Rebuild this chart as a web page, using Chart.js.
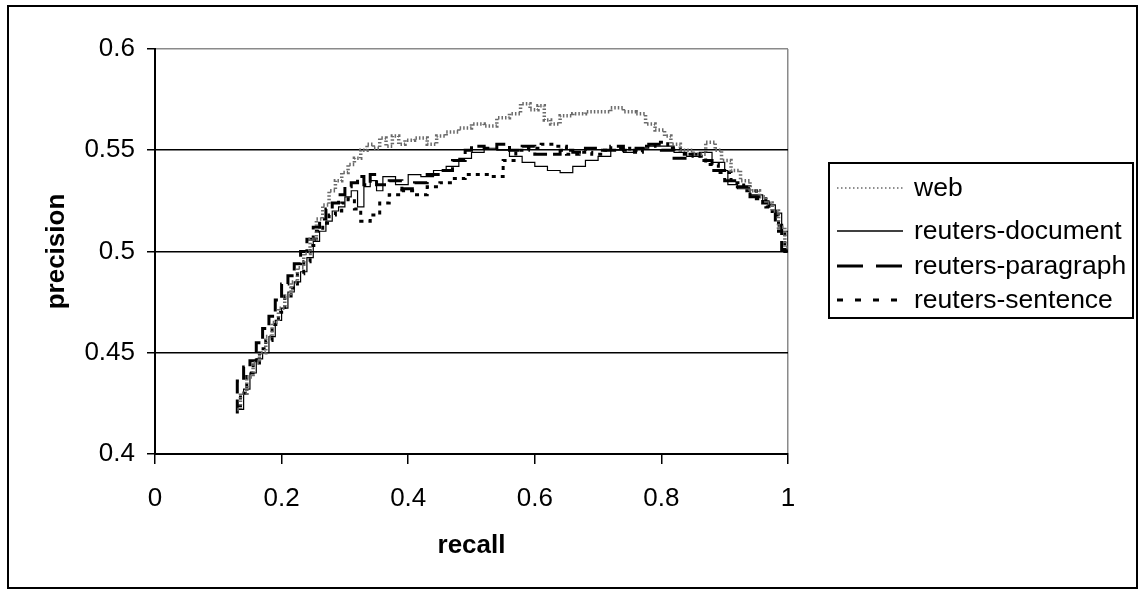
<!DOCTYPE html>
<html>
<head>
<meta charset="utf-8">
<script src="https://cdn.jsdelivr.net/npm/chart.js@4.4.1/dist/chart.umd.min.js"></script>
<style>
  body { margin: 0; background: #fff; }
</style>
</head>
<body>
<canvas id="grafica" width="1141" height="591"></canvas>
<script>
// valores: recall (x) y precision (y) por serie
const seriesNames = ['web', 'reuters-document', 'reuters-paragraph', 'reuters-sentence'];
const xTicks = [0, 0.2, 0.4, 0.6, 0.8, 1];
const yTicks = [0.4, 0.45, 0.5, 0.55, 0.6];

const webRecall = [0.13,0.14,0.15,0.16,0.17,0.18,0.19,0.2,0.21,0.22,0.23,0.24,0.25,0.26,0.27,0.28,0.29,0.3,0.31,0.32,0.33,0.34,0.35,0.36,0.37,0.38,0.39,0.4,0.42,0.44,0.45,0.47,0.49,0.51,0.53,0.55,0.57,0.585,0.6,0.61,0.62,0.63,0.65,0.67,0.69,0.71,0.73,0.75,0.77,0.78,0.8,0.81,0.82,0.84,0.86,0.88,0.89,0.9,0.92,0.93,0.95,0.96,0.97,0.98,0.99,1];
const webPrecision = [0.422,0.43,0.438,0.445,0.45,0.458,0.465,0.472,0.478,0.485,0.492,0.499,0.506,0.516,0.523,0.53,0.535,0.539,0.543,0.546,0.55,0.553,0.551,0.556,0.552,0.557,0.553,0.555,0.556,0.553,0.557,0.559,0.561,0.563,0.562,0.566,0.568,0.573,0.57,0.572,0.565,0.563,0.567,0.568,0.569,0.569,0.571,0.569,0.568,0.563,0.56,0.557,0.553,0.55,0.548,0.554,0.55,0.545,0.54,0.535,0.53,0.527,0.524,0.52,0.512,0.502];

const docRecall = [0.13,0.14,0.15,0.16,0.17,0.18,0.19,0.2,0.21,0.22,0.23,0.24,0.25,0.26,0.27,0.28,0.29,0.3,0.31,0.32,0.33,0.34,0.35,0.36,0.38,0.4,0.42,0.44,0.46,0.48,0.5,0.52,0.54,0.56,0.58,0.6,0.62,0.64,0.66,0.68,0.7,0.72,0.74,0.76,0.78,0.8,0.82,0.84,0.86,0.88,0.9,0.905,0.92,0.94,0.96,0.97,0.98,0.99,1];
const docPrecision = [0.422,0.432,0.44,0.447,0.45,0.458,0.466,0.472,0.48,0.485,0.49,0.497,0.505,0.51,0.515,0.52,0.522,0.527,0.53,0.522,0.532,0.535,0.53,0.537,0.533,0.538,0.537,0.54,0.542,0.546,0.549,0.551,0.55,0.547,0.544,0.542,0.54,0.539,0.542,0.545,0.547,0.55,0.549,0.551,0.552,0.552,0.549,0.547,0.549,0.544,0.54,0.533,0.531,0.528,0.525,0.523,0.519,0.51,0.5];

const paraRecall = [0.13,0.14,0.15,0.16,0.17,0.18,0.19,0.2,0.21,0.22,0.23,0.24,0.25,0.26,0.27,0.28,0.29,0.3,0.31,0.32,0.33,0.34,0.35,0.37,0.39,0.41,0.43,0.45,0.47,0.49,0.5,0.52,0.54,0.56,0.58,0.6,0.62,0.64,0.66,0.68,0.7,0.72,0.74,0.76,0.78,0.8,0.82,0.84,0.86,0.88,0.9,0.92,0.94,0.96,0.97,0.98,0.99,1];
const paraPrecision = [0.42,0.436,0.443,0.446,0.455,0.462,0.468,0.476,0.484,0.488,0.494,0.5,0.506,0.512,0.516,0.521,0.524,0.528,0.532,0.534,0.537,0.533,0.538,0.533,0.535,0.531,0.534,0.538,0.54,0.545,0.55,0.552,0.551,0.553,0.55,0.552,0.548,0.548,0.55,0.549,0.551,0.55,0.552,0.55,0.551,0.553,0.55,0.546,0.548,0.545,0.54,0.535,0.532,0.527,0.524,0.52,0.513,0.501];

const sentRecall = [0.13,0.14,0.15,0.16,0.17,0.18,0.19,0.2,0.21,0.22,0.23,0.24,0.25,0.26,0.27,0.28,0.29,0.3,0.31,0.32,0.33,0.35,0.36,0.38,0.4,0.42,0.44,0.46,0.48,0.5,0.52,0.54,0.56,0.58,0.6,0.62,0.64,0.66,0.68,0.7,0.72,0.74,0.76,0.78,0.8,0.82,0.84,0.86,0.88,0.9,0.92,0.94,0.96,0.97,0.98,0.99,1];
const sentPrecision = [0.424,0.43,0.44,0.444,0.452,0.456,0.464,0.47,0.478,0.482,0.489,0.495,0.503,0.51,0.514,0.518,0.52,0.524,0.526,0.521,0.515,0.518,0.524,0.528,0.53,0.528,0.532,0.534,0.536,0.538,0.538,0.537,0.545,0.55,0.551,0.553,0.552,0.548,0.549,0.548,0.55,0.551,0.549,0.552,0.554,0.551,0.548,0.547,0.543,0.539,0.534,0.53,0.526,0.522,0.518,0.51,0.5];

const fuente = "'Liberation Sans', Arial, sans-serif";
Chart.defaults.font.family = fuente;
Chart.defaults.color = '#000';

function puntos(xs, ys) {
  return xs.map((x, i) => ({ x: x, y: ys[i] }));
}

function etiqueta(v) {
  return String(Number(v.toFixed(2)));
}

// borde exterior del grafico
const marco = {
  id: 'marco',
  beforeDraw(chart) {
    const ctx = chart.ctx;
    ctx.save();
    ctx.strokeStyle = '#000';
    ctx.lineWidth = 2;
    ctx.strokeRect(8, 6, 1129, 582);
    ctx.restore();
  }
};

// leyenda con recuadro a la derecha
const leyenda = {
  id: 'leyenda',
  afterDraw(chart) {
    const ctx = chart.ctx;
    const filas = [188, 231, 266, 300];
    ctx.save();
    ctx.strokeStyle = '#000';
    ctx.lineWidth = 2;
    ctx.strokeRect(829, 163, 304, 155);
    chart.data.datasets.forEach((ds, i) => {
      const y = filas[i];
      ctx.beginPath();
      ctx.setLineDash(ds.legendDash);
      ctx.strokeStyle = ds.borderColor;
      ctx.lineWidth = ds.legendWidth;
      ctx.moveTo(837, y);
      ctx.lineTo(903, y);
      ctx.stroke();
      ctx.setLineDash([]);
      ctx.fillStyle = '#000';
      ctx.font = '26.5px ' + fuente;
      ctx.textBaseline = 'middle';
      ctx.textAlign = 'left';
      ctx.fillText(ds.label, 914, y + 1);
    });
    ctx.restore();
  }
};

const ctx = document.getElementById('grafica').getContext('2d');
const myChart = new Chart(ctx, {
  type: 'line',
  data: {
    datasets: [
      {
        label: seriesNames[0],
        data: puntos(webRecall, webPrecision),
        borderColor: '#6a6a6a',
        borderWidth: 3.5,
        borderDash: [1.5, 2],
        stepped: 'middle',
        legendDash: [1.5, 2.5],
        legendWidth: 1.5
      },
      {
        label: seriesNames[1],
        data: puntos(docRecall, docPrecision),
        borderColor: '#000',
        borderWidth: 1.2,
        borderDash: [],
        stepped: 'before',
        legendDash: [],
        legendWidth: 1.5
      },
      {
        label: seriesNames[2],
        data: puntos(paraRecall, paraPrecision),
        borderColor: '#000',
        borderWidth: 3,
        borderDash: [14, 6],
        stepped: 'after',
        legendDash: [26, 13],
        legendWidth: 3
      },
      {
        label: seriesNames[3],
        data: puntos(sentRecall, sentPrecision),
        borderColor: '#000',
        borderWidth: 3,
        borderDash: [4, 5],
        stepped: 'middle',
        legendDash: [6, 12],
        legendWidth: 3
      }
    ]
  },
  options: {
    responsive: false,
    animation: false,
    devicePixelRatio: 1,
    layout: { padding: { left: 8, top: 49, right: 353, bottom: 30 } },
    elements: {
      point: { radius: 0 },
      line: { tension: 0, fill: false }
    },
    plugins: {
      legend: { display: false },
      tooltip: { enabled: false }
    },
    scales: {
      x: {
        type: 'linear',
        min: 0,
        max: 1,
        afterBuildTicks: s => { s.ticks = xTicks.map(v => ({ value: v })); },
        afterFit: s => { s.height = 107; },
        ticks: {
          callback: v => etiqueta(v),
          font: { size: 26 },
          padding: 19,
          maxRotation: 0
        },
        grid: {
          color: c => (c.tick && c.tick.value === 1) ? '#8a8a8a' : 'rgba(0,0,0,0)',
          lineWidth: 1.5,
          tickColor: '#000',
          tickLength: 10
        },
        border: { color: '#000', width: 2 },
        title: {
          display: true,
          text: 'recall',
          font: { size: 26, weight: 'bold' },
          padding: { top: 0, bottom: 0 }
        }
      },
      y: {
        min: 0.4,
        max: 0.6,
        afterBuildTicks: s => { s.ticks = yTicks.map(v => ({ value: v })); },
        afterFit: s => { s.width = 147; },
        ticks: {
          callback: v => etiqueta(v),
          font: { size: 26 },
          padding: 12
        },
        grid: {
          color: c => (c.tick && c.tick.value === 0.6) ? '#8a8a8a' : '#000',
          lineWidth: 1.5,
          tickColor: '#000',
          tickLength: 8
        },
        border: { color: '#000', width: 2 },
        title: {
          display: true,
          text: 'precision',
          font: { size: 26, weight: 'bold' },
          padding: { top: 33, bottom: 0 }
        }
      }
    }
  },
  plugins: [marco, leyenda]
});
</script>
</body>
</html>
